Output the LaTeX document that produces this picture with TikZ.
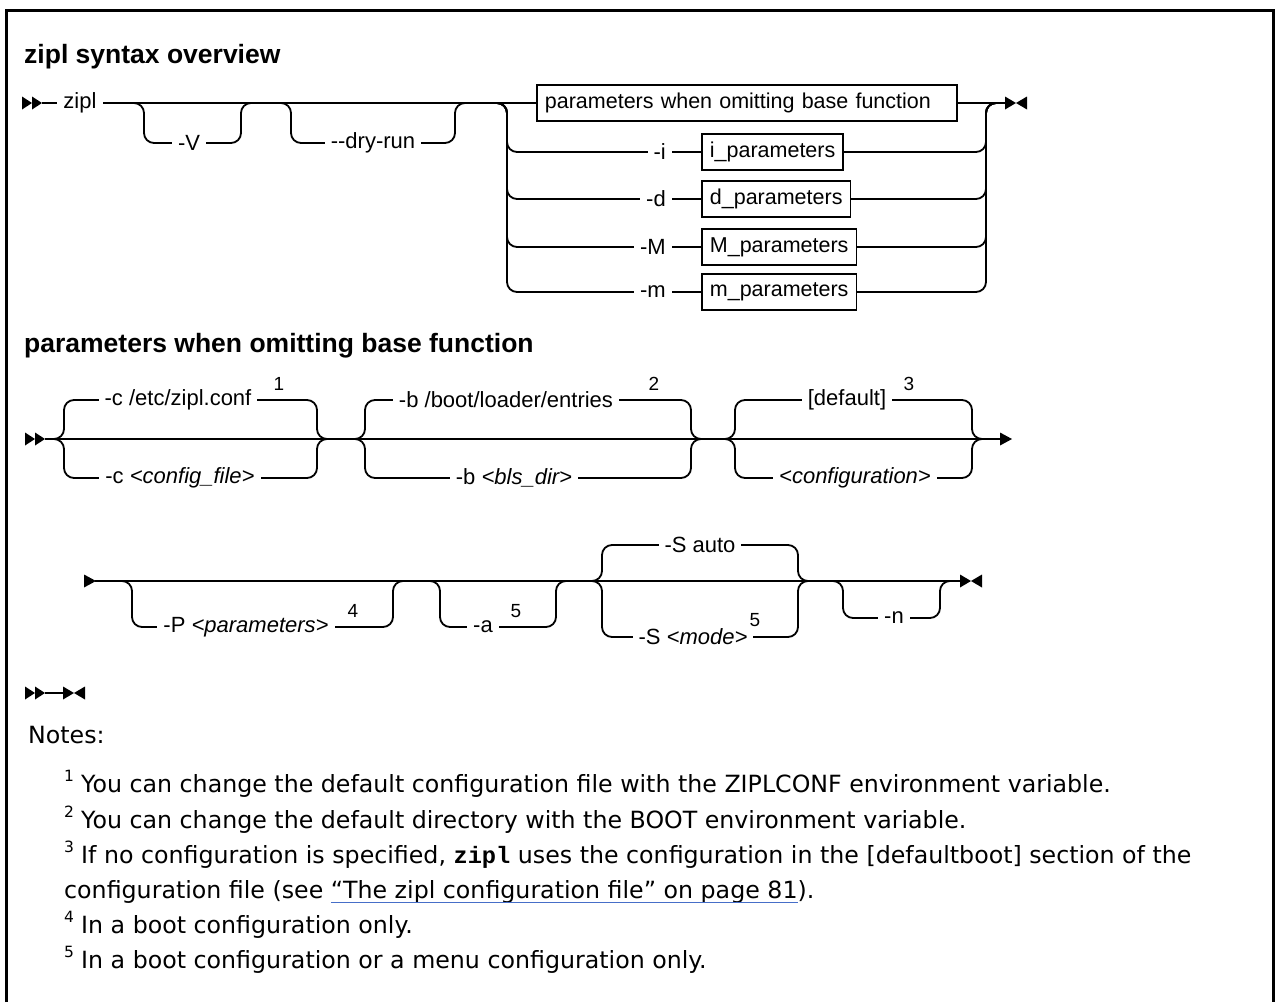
\documentclass[tikz,border=0pt]{standalone}
\usepackage{fontspec}
\setmainfont{Liberation Sans}
\setmonofont{Liberation Mono}
\newfontfamily\notefont{DejaVu Sans}
\definecolor{linkblue}{RGB}{70,110,200}
\newsavebox\linkbox
\newcommand\linktext[1]{\sbox\linkbox{#1}\usebox\linkbox\llap{\textcolor{linkblue}{\rule[-5pt]{\wd\linkbox}{1.3pt}}}}
\tikzset{
  rail/.style={line width=1.8pt, rounded corners=10pt},
  lbl/.style={fill=white, inner xsep=6pt, inner ysep=1pt, font=\fontsize{22}{25}\selectfont},
  supn/.style={inner sep=0pt, anchor=south, font=\fontsize{19}{22}\selectfont},
  synbox/.style={draw, line width=1.8pt, fill=white, font=\fontsize{21.5}{24}\selectfont, minimum height=36pt, inner xsep=8pt, anchor=west},
  ttl/.style={anchor=base west, inner sep=0pt, font=\fontsize{26.5}{30}\selectfont\bfseries},
  note/.style={anchor=base west, inner sep=0pt, font=\notefont\fontsize{23.7}{28}\selectfont},
  nsup/.style={anchor=base west, inner sep=0pt, font=\notefont\fontsize{15.5}{18}\selectfont},
  dblstart/.pic={\fill (0,-6.5) -- (10,0) -- (0,6.5) -- cycle; \fill (10,-6.5) -- (20,0) -- (10,6.5) -- cycle;},
  endpair/.pic={\fill (0,-6.5) -- (11,0) -- (0,6.5) -- cycle; \fill (22,-6.5) -- (11,0) -- (22,6.5) -- cycle;},
  contarrow/.pic={\fill (0,-6.5) -- (12,0) -- (0,6.5) -- cycle;},
}
\begin{document}
\begin{tikzpicture}[x=1pt,y=-1pt]
\useasboundingbox (0,0) rectangle (1275,1002);
% frame
\draw[line width=2.6pt] (6.5,1002) -- (6.5,10.5) -- (1273.5,10.5) -- (1273.5,1002);

% ---------- titles
\node[ttl] (t1) at (24,63) {zipl syntax overview};
\node[ttl] (t2) at (24,352) {parameters when omitting base function};

% ---------- row 1
\pic at (22,103) {dblstart};
\draw[rail] (42,103) -- (1005,103);
\draw[rail] (130,103) -- (144,103) -- (144,143) -- (241,143) -- (241,103) -- (255,103);
\draw[rail] (277,103) -- (291,103) -- (291,143) -- (455,143) -- (455,103) -- (469,103);
\foreach \yy in {152,199,247,292}
  \draw[rail] (493,103) -- (507,103) -- (507,\yy) -- (986,\yy) -- (986,103) -- (1000,103);
\pic at (1005,103) {endpair};

\node[lbl] (zipl) at (80,103) {zipl};
\node[lbl] (V) at (189,143) {-V};
\node[lbl] (dry) at (373,143) {-{}-dry-run};
\node[synbox, text width=404pt, align=left] (pwo) at (536,103) {parameters when omitting base function};
\node[lbl, anchor=east] (oi) at (672,152) {-i};
\node[lbl, anchor=east] (od) at (672,199) {-d};
\node[lbl, anchor=east] (oM) at (672,247) {-M};
\node[lbl, anchor=east] (om) at (672,292) {-m};
\node[synbox] (bi) at (701,152) {i\_parameters};
\node[synbox] (bd) at (701,199) {d\_parameters};
\node[synbox] (bM) at (701,247) {M\_parameters};
\node[synbox] (bm) at (701,292) {m\_parameters};

% ---------- row 2
\pic at (25,439) {dblstart};
\draw[rail] (45,439) -- (1000,439);
\foreach \xa/\xb in {64/317,365/691,735/972}{
  \draw[rail] (\xa-14,439) -- (\xa,439) -- (\xa,400) -- (\xb,400) -- (\xb,439) -- (\xb+14,439);
  \draw[rail] (\xa-14,439) -- (\xa,439) -- (\xa,478) -- (\xb,478) -- (\xb,439) -- (\xb+14,439);
}
\pic at (1000,439) {contarrow};

\node[lbl] (c1) at (178,400) {-c /etc/zipl.conf};
\node[supn] (n1) at (279,391) {1};
\node[lbl] (c2) at (180,478) {-c \textit{<config\_file>}};
\node[lbl] (b1) at (506,400) {-b /boot/loader/entries};
\node[supn] (n2) at (654,391) {2};
\node[lbl] (b2) at (514,478) {-b \textit{<bls\_dir>}};
\node[lbl] (d1) at (847,400) {[default]};
\node[supn] (n3) at (909,391) {3};
\node[lbl] (d2) at (855,478) {\textit{<configuration>}};

% ---------- row 3
\pic at (84,581) {contarrow};
\draw[rail] (95,581) -- (960,581);
\draw[rail] (118,581) -- (132,581) -- (132,627) -- (393,627) -- (393,581) -- (407,581);
\draw[rail] (426,581) -- (440,581) -- (440,627) -- (556,627) -- (556,581) -- (570,581);
\draw[rail] (588,581) -- (602,581) -- (602,545) -- (798,545) -- (798,581) -- (812,581);
\draw[rail] (588,581) -- (602,581) -- (602,637) -- (798,637) -- (798,581) -- (812,581);
\draw[rail] (829,581) -- (843,581) -- (843,618) -- (940,618) -- (940,581) -- (954,581);
\pic at (960,581) {endpair};

\node[lbl] (P) at (246,627) {-P \textit{<parameters>}};
\node[supn] (n4) at (353,618) {4};
\node[lbl] (a) at (483,627) {-a};
\node[supn] (n5a) at (516,618) {5};
\node[lbl] (S1) at (700,545) {-S auto};
\node[lbl] (S2) at (693,637) {-S \textit{<mode>}};
\node[supn] (n5b) at (755,627) {5};
\node[lbl] (nn) at (894,618) {-n};

% ---------- empty fragment
\pic at (25,693) {dblstart};
\draw[rail] (45,693) -- (64,693);
\pic at (63,693) {endpair};

% ---------- notes
\node[note] (notes) at (28,743) {Notes:};
\node[nsup] (s1) at (64,781) {1};
\node[note] (l1) at (81,792) {You can change the default configuration file with the ZIPLCONF environment variable.};
\node[nsup] (s2) at (64,817) {2};
\node[note] (l2) at (81,828) {You can change the default directory with the BOOT environment variable.};
\node[nsup] (s3) at (64,852) {3};
\node[note] (l3) at (81,863) {If no configuration is specified, \texttt{\bfseries zipl} uses the configuration in the [defaultboot] section of the};
\node[note] (l3b) at (64,898) {configuration file (see \linktext{“The zipl configuration file” on page 81}).};
\node[nsup] (s4) at (64,922) {4};
\node[note] (l4) at (81,933) {In a boot configuration only.};
\node[nsup] (s5) at (64,957) {5};
\node[note] (l5) at (81,968) {In a boot configuration or a menu configuration only.};
\end{tikzpicture}
\end{document}
